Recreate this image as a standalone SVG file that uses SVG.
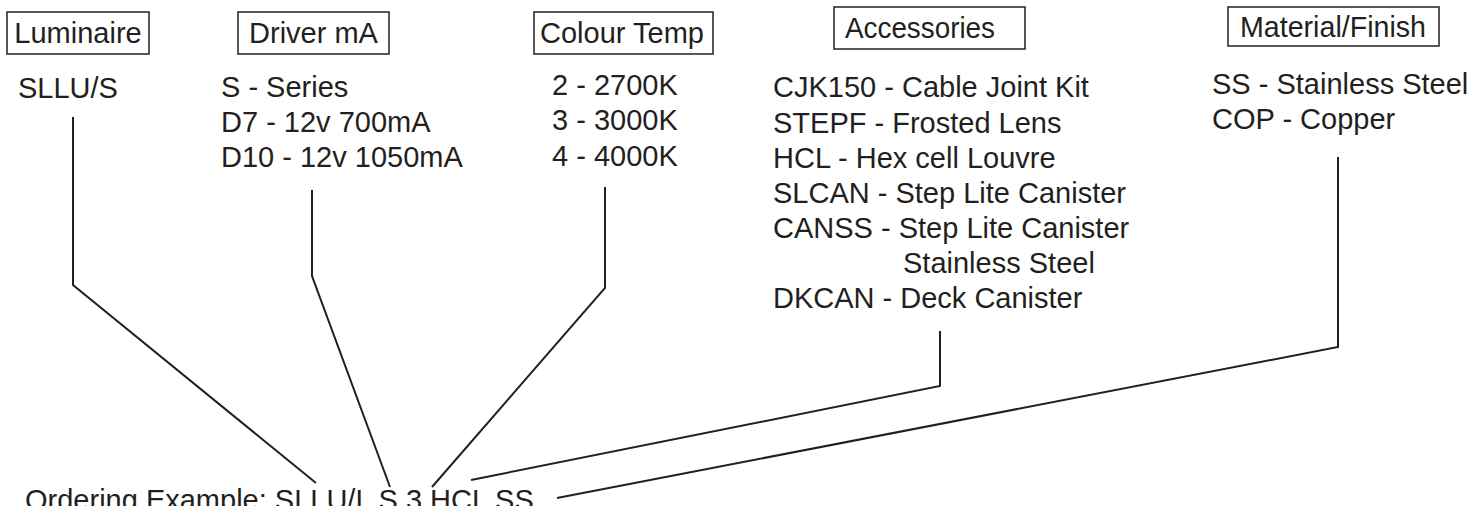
<svg xmlns="http://www.w3.org/2000/svg" width="1472" height="506" viewBox="0 0 1472 506">
<style>
text{font-family:"Liberation Sans",Arial,sans-serif;font-size:29px;fill:#231f20}
.box{fill:none;stroke:#231f20;stroke-width:1.5}
.conn path{fill:none;stroke:#231f20;stroke-width:2}
</style>
<rect width="1472" height="506" fill="#fff"/>
<g id="luminaire">
<rect class="box" x="7" y="12" width="142" height="42"/>
<text x="78" y="43" text-anchor="middle">Luminaire</text>
<text x="18" y="98">SLLU/S</text>
</g>
<g id="driver">
<rect class="box" x="238" y="12" width="151" height="42"/>
<text x="313.5" y="43" text-anchor="middle">Driver mA</text>
<text x="221" y="97">S - Series</text>
<text x="221" y="132">D7 - 12v 700mA</text>
<text x="221" y="167">D10 - 12v 1050mA</text>
</g>
<g id="colour">
<rect class="box" x="534" y="12" width="179" height="42"/>
<text x="622" y="43" text-anchor="middle">Colour Temp</text>
<text x="552" y="95">2 - 2700K</text>
<text x="552" y="130">3 - 3000K</text>
<text x="552" y="166">4 - 4000K</text>
</g>
<g id="accessories">
<rect class="box" x="834" y="7" width="191" height="42"/>
<text x="845" y="38" textLength="150" lengthAdjust="spacingAndGlyphs">Accessories</text>
<text x="773" y="97">CJK150 - Cable Joint Kit</text>
<text x="773" y="133">STEPF - Frosted Lens</text>
<text x="773" y="168">HCL - Hex cell Louvre</text>
<text x="773" y="203">SLCAN - Step Lite Canister</text>
<text x="773" y="238">CANSS - Step Lite Canister</text>
<text x="903" y="273">Stainless Steel</text>
<text x="773" y="308">DKCAN - Deck Canister</text>
</g>
<g id="material">
<rect class="box" x="1228" y="7" width="211" height="39"/>
<text x="1240" y="37" textLength="186" lengthAdjust="spacingAndGlyphs">Material/Finish</text>
<text x="1212" y="94">SS - Stainless Steel</text>
<text x="1212" y="129">COP - Copper</text>
</g>
<g id="example">
<text x="25" y="510">Ordering Example: SLLU/L S 3 HCL SS</text>
</g>
<g id="connectors" class="conn">
<path d="M73,117 V285 L316,483"/>
<path d="M312,190 V276 L390,487"/>
<path d="M605,187 V288 L432,487"/>
<path d="M940,331 V386 L471,480"/>
<path d="M1338,157 V347 L557,498"/>
</g>
</svg>
